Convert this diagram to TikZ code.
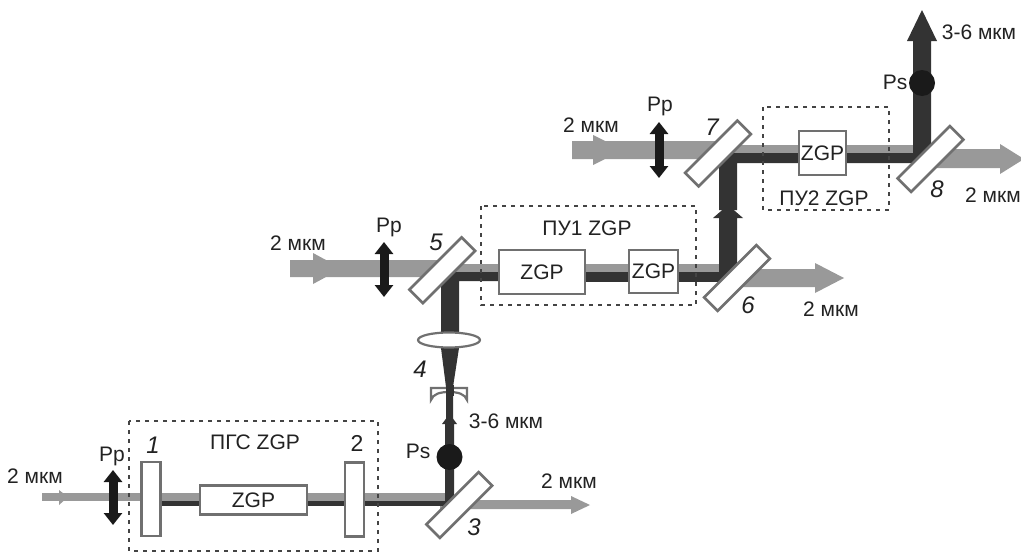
\documentclass[tikz,border=0pt]{standalone}
\usepackage{fontspec}
\setmainfont{Liberation Sans}
\usetikzlibrary{shapes.geometric,arrows.meta}
\definecolor{beamgrey}{HTML}{999999}
\definecolor{beamdark}{HTML}{333333}
\definecolor{blk}{HTML}{1A1A1A}
\definecolor{edgegrey}{HTML}{707070}
\definecolor{txt}{HTML}{222222}
\definecolor{dashc}{HTML}{444444}
\tikzset{
  lbl/.style={font=\fontsize{21}{21}\selectfont,text=txt,inner sep=0pt},
  num/.style={font=\fontsize{24}{24}\selectfont\itshape,text=txt,inner sep=0pt},
  crystal/.style={draw=edgegrey,line width=2.6pt,fill=white,inner sep=0pt,font=\fontsize{21}{21}\selectfont,text=txt},
  mirror/.style={draw=edgegrey,line width=2.6pt,fill=white,inner sep=0pt,minimum width=#1,minimum height=19pt},
  mirrordiag/.style={mirror=74pt,rotate=45},
  grp/.style={draw=dashc,line width=1.2pt,dash pattern=on 4pt off 5pt},
  gb/.style={fill=beamgrey,draw=none},
  db/.style={fill=beamdark,draw=none},
  pol/.style={line width=9pt,blk,{Triangle[width=18pt,length=12pt]}-{Triangle[width=18pt,length=12pt]}},
  dot/.style={circle,fill=blk,minimum size=26pt,inner sep=0pt},
}
\begin{document}
\begin{tikzpicture}[x=1pt,y=-1pt]
\useasboundingbox (0,0) rectangle (1021,554);
% --- grey beams
\fill[gb] (42,493) rectangle (448,501);
\fill[gb] (59,490) -- (68,497) -- (59,505) -- cycle;
\fill[gb] (440,500) -- (571,500) -- (571,496) -- (590,505) -- (571,514) -- (571,509) -- (440,509) -- cycle;
\fill[gb] (290,260) -- (313,260) -- (313,253) -- (326,260) -- (440,260) -- (440,264) -- (730,264) -- (730,272) -- (440,272) -- (440,277) -- (326,277) -- (313,284) -- (313,277) -- (290,277) -- cycle;
\fill[gb] (730,269) -- (815,269) -- (815,263) -- (844,278) -- (815,293) -- (815,287) -- (730,287) -- cycle;
\fill[gb] (572,141) -- (593,141) -- (593,135) -- (605,141) -- (715,141) -- (715,145) -- (925,145) -- (925,153) -- (715,153) -- (715,159) -- (605,159) -- (593,165) -- (593,159) -- (572,159) -- cycle;
\fill[gb] (925,149) -- (1000,149) -- (1000,144) -- (1024,159) -- (1000,174) -- (1000,168) -- (925,168) -- cycle;
% --- dark beams
\fill[db] (161,501) rectangle (454,506);
\fill[db] (445,506) -- (445,424) -- (442,424) -- (449.5,414) -- (457,424) -- (454,424) -- (454,506) -- cycle;
\fill[db] (446,424) -- (446,387) -- (441,348) -- (441,272) -- (500,272) -- (500,281) -- (459,281) -- (459,348) -- (453,387) -- (453,424) -- cycle;
\fill[db] (498,272) rectangle (737,282);
\fill[db] (719,282) -- (719,218) -- (713,218) -- (728,205) -- (743,218) -- (737,218) -- (737,282) -- cycle;
\fill[db] (719,210) -- (719,153) -- (931,153) -- (931,163) -- (737,163) -- (737,210) -- cycle;
\fill[db] (913,163) -- (913,41) -- (907,41) -- (922,10) -- (937,41) -- (931,41) -- (931,163) -- cycle;
% --- dashed groups
\draw[grp] (129,421) rectangle (378,551);
\draw[grp] (481,206) rectangle (696,305);
\draw[grp] (763,107) rectangle (889,210);
% --- crystals
\node[crystal,minimum width=107pt,minimum height=29pt] (zgpa) at (253.5,500) {ZGP};
\node[crystal,minimum width=86pt,minimum height=44pt] (zgpb) at (542,272) {ZGP};
\node[crystal,minimum width=49pt,minimum height=43pt] (zgpc) at (653.5,271.5) {ZGP};
\node[crystal,minimum width=47pt,minimum height=44pt] (zgpd) at (822.5,153) {ZGP};
% --- mirrors
\node[mirror=74pt,rotate=90] (m1) at (151,499) {};
\node[mirror=74pt,rotate=90] (m2) at (354.5,499.5) {};
\node[mirrordiag] (m3) at (459.25,505) {};
\node[mirrordiag] (m5) at (442.25,270.25) {};
\node[mirrordiag] (m6) at (737,278) {};
\node[mirrordiag] (m7) at (718,153.5) {};
\node[mirrordiag] (m8) at (930.5,159) {};
% --- lens and curved mirror
\node[ellipse,draw=edgegrey,line width=2.2pt,fill=white,minimum width=62pt,minimum height=15pt,inner sep=0pt] (lens) at (449,340) {};
\draw[edgegrey,line width=2.2pt,fill=white] (431,400) -- (431,388) -- (467,388) -- (467,400) .. controls (465,394) and (458,392) .. (449,392) .. controls (440,392) and (433,394) .. (431,400) -- cycle;
\fill[db] (445.5,385) rectangle (453.5,396);
% --- polarisation
\coordinate (pa1) at (113,470); \coordinate (pa2) at (113,525);
\coordinate (pb1) at (384,242); \coordinate (pb2) at (384,297);
\coordinate (pc1) at (659,122); \coordinate (pc2) at (659,178);
\draw[pol] (pa1) -- (pa2);
\draw[pol] (pb1) -- (pb2);
\draw[pol] (pc1) -- (pc2);
\node[dot] (psa) at (449.5,457) {};
\node[dot] (psb) at (922,83) {};
% --- labels
\node[lbl] (t1) at (35,476) {2 мкм};
\node[lbl] (t2) at (112,456) {Pp};
\node[num] (t3) at (153,445) {1};
\node[lbl] (t4) at (255,442) {ПГС ZGP};
\node[lbl,font=\fontsize{23}{23}\selectfont] (t5) at (357,443) {2};
\node[num] (t6) at (420,369) {4};
\node[lbl] (t7) at (506,421) {3-6 мкм};
\node[lbl] (t8) at (418,451) {Ps};
\node[lbl] (t9) at (569,481) {2 мкм};
\node[num] (t10) at (474,527) {3};
\node[lbl] (t11) at (298,243) {2 мкм};
\node[lbl] (t12) at (389,227) {Pp};
\node[num] (t13) at (436,242) {5};
\node[lbl] (t14) at (587,228) {ПУ1 ZGP};
\node[num] (t15) at (748,305) {6};
\node[lbl] (t16) at (831,309) {2 мкм};
\node[num] (t17) at (712,127) {7};
\node[lbl] (t18) at (660,106) {Pp};
\node[lbl] (t19) at (591,125) {2 мкм};
\node[lbl] (t20) at (824,198) {ПУ2 ZGP};
\node[num] (t21) at (937,189) {8};
\node[lbl] (t22) at (993,195) {2 мкм};
\node[lbl] (t23) at (979,32) {3-6 мкм};
\node[lbl] (t24) at (895,82) {Ps};
\end{tikzpicture}
\end{document}
